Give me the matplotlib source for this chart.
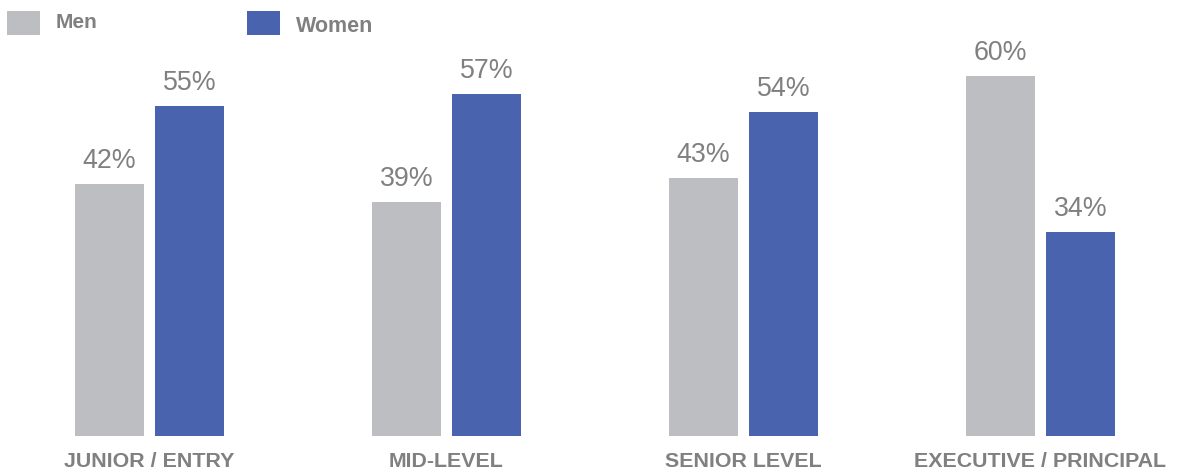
import numpy as np
import matplotlib.pyplot as plt
from matplotlib.patches import Rectangle

plt.rcParams['font.family'] = ['Liberation Sans', 'DejaVu Sans']

categories = ['JUNIOR / ENTRY', 'MID-LEVEL', 'SENIOR LEVEL', 'EXECUTIVE / PRINCIPAL']
men = [42, 39, 43, 60]
women = [55, 57, 54, 34]

gray = '#BDBEC2'
blue = '#4963AE'
text_gray = '#808080'

W, H = 1177, 472
fig = plt.figure(figsize=(W / 100, H / 100), dpi=100)

# axes spans full width; baseline at y=436px, 6px per percent
ax = fig.add_axes([0, (H - 436) / H, 1, 436 / H])
x = np.arange(len(categories))
width = 69 / 297
off = 40 / 297
b1 = ax.bar(x - off, men, width, color=gray)
b2 = ax.bar(x + off, women, width, color=blue)
ax.set_xlim(-149.5 / 297, (W - 149.5) / 297)
ax.set_ylim(0, 436 / 6)
ax.axis('off')

for bars, vals in [(b1, men), (b2, women)]:
    for b, v in zip(bars, vals):
        ax.annotate(f'{v}%', (b.get_x() + b.get_width() / 2, v),
                    xytext=(0, 16 * 0.72), textcoords='offset points',
                    ha='center', va='baseline', fontsize=19.3, color=text_gray)

for xi, cat in zip(x, categories):
    ax.annotate(cat, (xi, 0), xytext=(0, -31 * 0.72), textcoords='offset points',
                ha='center', va='baseline', fontsize=15.4, fontweight='bold', color=text_gray)

# legend drawn by hand
fig.add_artist(Rectangle((7 / W, 1 - 35 / H), 33 / W, 24 / H, transform=fig.transFigure,
                         color=gray, lw=0))
fig.text(56 / W, 1 - 28 / H, 'Men', fontsize=15, fontweight='bold', color=text_gray,
         va='baseline', ha='left')
fig.add_artist(Rectangle((247 / W, 1 - 35 / H), 33 / W, 24 / H, transform=fig.transFigure,
                         color=blue, lw=0))
fig.text(296 / W, 1 - 32 / H, 'Women', fontsize=15.5, fontweight='bold', color=text_gray,
         va='baseline', ha='left')

plt.savefig('out.png', dpi=100)
plt.close(fig)
